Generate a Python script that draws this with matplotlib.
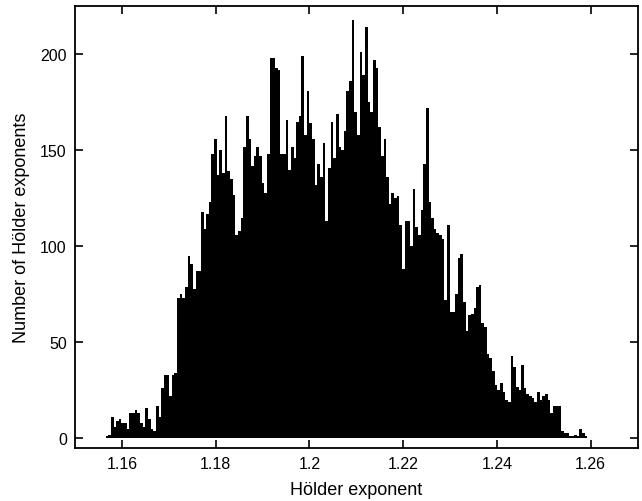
import numpy as np
import matplotlib
matplotlib.use("Agg")
import matplotlib.pyplot as plt

plt.rcParams['font.family'] = ['Liberation Sans', 'DejaVu Sans']

# histogram of Holder exponents, counts read bin by bin off the figure
x_start = 1.1565
x_end = 1.2593
counts = [
    1, 2, 11, 6, 9, 10, 8, 8, 5, 13,
    13, 15, 13, 8, 6, 16, 10, 5, 4, 17,
    11, 26, 33, 33, 22, 33, 34, 73, 75, 73,
    79, 95, 91, 78, 87, 87, 118, 109, 117, 123,
    148, 156, 137, 150, 138, 168, 139, 135, 127, 106,
    108, 115, 152, 168, 156, 142, 147, 152, 147, 133,
    128, 148, 198, 198, 193, 192, 148, 148, 166, 140,
    152, 146, 165, 168, 199, 158, 181, 164, 156, 132,
    143, 136, 154, 113, 141, 165, 146, 169, 152, 150,
    160, 181, 186, 218, 170, 158, 201, 189, 214, 175,
    170, 197, 193, 162, 147, 156, 136, 122, 128, 125,
    126, 111,
    88, 113, 113, 100, 130, 110, 106, 119, 143, 172,
    123, 115, 109, 107, 106, 104, 72, 111, 66, 66,
    75, 94, 96, 71, 56, 64, 65, 68, 79, 80,
    60, 58, 44, 42, 35, 28, 25, 29, 24, 20,
    19, 43, 37, 27, 25, 38, 26, 23, 22, 21,
    19, 24, 20, 22, 23, 20, 13, 17, 17, 17,
    4, 3, 3, 1, 1, 2, 1, 5, 3, 1,
]
x_ticks = [1.16, 1.18, 1.2, 1.22, 1.24, 1.26]
x_tick_labels = ['1.16', '1.18', '1.2', '1.22', '1.24', '1.26']
y_ticks = [0, 50, 100, 150, 200]

edges = np.linspace(x_start, x_end, len(counts) + 1)

fig = plt.figure(figsize=(6.42, 5.02), dpi=100)
ax = fig.add_axes([0.117, 0.1056, 0.876, 0.8798])

ax.stairs(counts, edges, fill=True, color='black', baseline=0)

ax.set_xlim(1.15, 1.27)
ax.set_ylim(-5, 225)
ax.set_xticks(x_ticks)
ax.set_xticklabels(x_tick_labels)
ax.set_yticks(y_ticks)

ax.tick_params(direction='in', length=6, width=1.2, top=True, right=True,
               labelsize=11.5, pad=6)
for s in ax.spines.values():
    s.set_linewidth(1.3)

ax.set_xlabel('Hölder exponent', fontsize=13, labelpad=7)
ax.set_ylabel('Number of Hölder exponents', fontsize=13, labelpad=7)

fig.savefig('out.png', dpi=100)
